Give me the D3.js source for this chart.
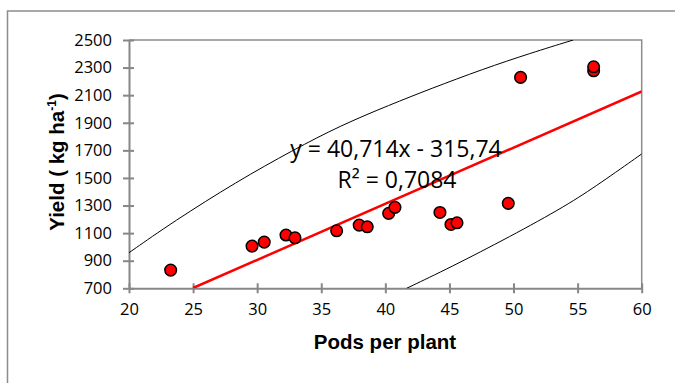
<!DOCTYPE html>
<html><head><meta charset="utf-8">
<script src="https://cdn.jsdelivr.net/npm/d3@7"></script>
<style>html,body{margin:0;padding:0;background:#fff;}svg{display:block;}</style>
</head><body><div id="chart"></div>
<script>
// Data
const pods = [23.25, 29.6, 30.55, 32.25, 32.95, 36.2, 37.96, 38.59, 40.26, 40.75, 44.26, 45.12, 45.59, 49.59, 50.55, 56.25, 56.25];
const yieldVals = [832, 1006, 1035, 1086, 1066, 1117, 1158, 1146, 1243, 1287, 1250, 1163, 1175, 1316, 2229, 2277, 2306];
const slope = 40.714, intercept = -315.74;
const trendRange = [25, 60];
const upperX = [20, 23.46, 28.4, 32.82, 36.5, 40.36, 43.48, 47.64, 51.3, 54.66];
const upperY = [958, 1183, 1473, 1703, 1880, 2030, 2145, 2290, 2404, 2500];
const lowerX = [41.66, 45.04, 49.72, 54.14, 56.74, 60];
const lowerY = [700, 850, 1074, 1300, 1460, 1674];
const xTicks = [20, 25, 30, 35, 40, 45, 50, 55, 60];
const yTicks = [700, 900, 1100, 1300, 1500, 1700, 1900, 2100, 2300, 2500];
const eqLabel = "y = 40,714x - 315,74";
const r2Label = "R² = 0,7084";
const xTitle = "Pods per plant";

const W = 675, H = 383;
const L = 129, R = 641.7, T = 40, B = 288.3;
const svg = d3.select("#chart").append("svg").attr("width", W).attr("height", H);

// outer frame
svg.append("rect").attr("x", 7.5).attr("y", 11).attr("width", 700).attr("height", 400)
  .attr("fill", "#fff").attr("stroke", "#8c8c8c").attr("stroke-width", 1.5);

const x = d3.scaleLinear().domain([20, 60]).range([L, R]);
const y = d3.scaleLinear().domain([700, 2500]).range([B, T]);

svg.append("defs").append("clipPath").attr("id", "clip")
  .append("rect").attr("x", L).attr("y", T).attr("width", R - L).attr("height", B - T);

// plot border top/right
svg.append("path").attr("d", `M${L},${T}H${R}V${B}`).attr("fill", "none")
  .attr("stroke", "#8c8c8c").attr("stroke-width", 1.5);

// axes
const gx = svg.append("g").attr("transform", `translate(0,${B})`)
  .call(d3.axisBottom(x).tickValues(xTicks).tickFormat(d3.format("d")).tickSizeInner(5).tickSizeOuter(0).tickPadding(12));
const gy = svg.append("g").attr("transform", `translate(${L},0)`)
  .call(d3.axisLeft(y).tickValues(yTicks).tickFormat(d3.format("d")).tickSizeInner(5).tickSizeOuter(0).tickPadding(12));
[gx, gy].forEach(g => {
  g.select(".domain").attr("stroke", "#878787").attr("stroke-width", 2);
  g.selectAll(".tick line").attr("stroke", "#878787").attr("stroke-width", 2);
  g.selectAll(".tick text").attr("font-family", "Open Sans").attr("font-size", 16.5).attr("fill", "#000");
});
gx.selectAll(".tick line").attr("y1", -5).attr("y2", 5);
gx.selectAll(".tick text").attr("y", 15);
gy.selectAll(".tick line").attr("x1", -6).attr("x2", 5);
gy.selectAll(".tick text").attr("x", -17);

const plot = svg.append("g").attr("clip-path", "url(#clip)");
const line = d3.line().x(d => x(d[0])).y(d => y(d[1])).curve(d3.curveBasis);
plot.append("path").datum(d3.zip(upperX, upperY)).attr("d", line)
  .attr("fill", "none").attr("stroke", "#000").attr("stroke-width", 1);
plot.append("path").datum(d3.zip(lowerX, lowerY)).attr("d", line)
  .attr("fill", "none").attr("stroke", "#000").attr("stroke-width", 1);

// trend line
const tl = trendRange.map(v => [v, slope * v + intercept]);
plot.append("path").datum(tl).attr("d", d3.line().x(d => x(d[0])).y(d => y(d[1])))
  .attr("stroke", "#ff0000").attr("stroke-width", 2.5).attr("fill", "none");

// points
svg.append("g").selectAll("circle").data(d3.zip(pods, yieldVals)).join("circle")
  .attr("cx", d => x(d[0])).attr("cy", d => y(d[1])).attr("r", 5.8)
  .attr("fill", "#ff0000").attr("stroke", "#000").attr("stroke-width", 1.5);

// equation
svg.append("text").attr("x", 396).attr("y", 157).attr("text-anchor", "middle")
  .attr("font-family", "Open Sans").attr("font-size", 23).text(eqLabel);
svg.append("text").attr("x", 397).attr("y", 188).attr("text-anchor", "middle")
  .attr("font-family", "Open Sans").attr("font-size", 23).text(r2Label);

// axis titles
svg.append("text").attr("x", 385).attr("y", 349).attr("text-anchor", "middle")
  .attr("font-family", "Liberation Sans").attr("font-weight", "bold").attr("font-size", 20.5).text(xTitle);
const yt = svg.append("text").attr("transform", "translate(64,162) rotate(-90)").attr("text-anchor", "middle")
  .attr("font-family", "Liberation Sans").attr("font-weight", "bold").attr("font-size", 20.5);
yt.append("tspan").text("Yield ( kg ha");
yt.append("tspan").attr("dy", -8).attr("font-size", 12).text("-1");
yt.append("tspan").attr("dy", 8).text(")");
</script></body></html>
